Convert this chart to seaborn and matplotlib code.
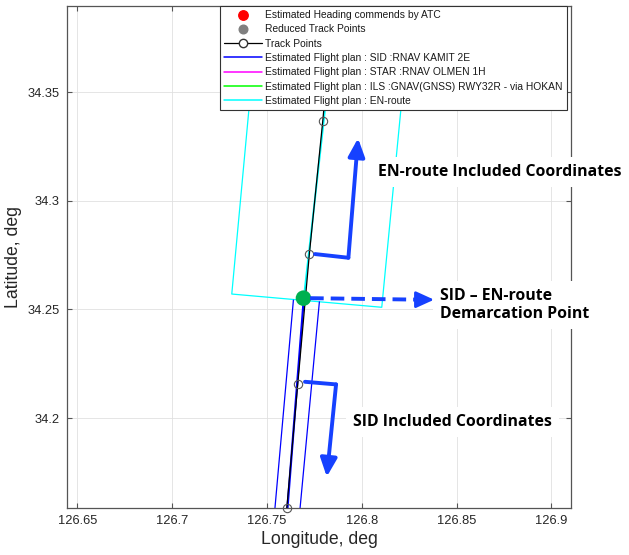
import numpy as np
import matplotlib
matplotlib.use("Agg")
import matplotlib.pyplot as plt
from matplotlib.lines import Line2D
import seaborn as sns

# flight track (lon, lat)
track_lon = [126.7604, 126.7662, 126.7723, 126.7794, 126.7855]
track_lat = [34.1584, 34.2157, 34.2754, 34.3369, 34.3950]

# SID corridor + centreline
sid_left_lon = [126.7533, 126.7639]
sid_left_lat = [34.150, 34.2543]
sid_right_lon = [126.7665, 126.7776]
sid_right_lat = [34.150, 34.2535]
sid_center_lon = [126.7600, 126.7694]
sid_center_lat = [34.150, 34.2552]

# EN-route corridor + centreline
enr_lon = [126.7466, 126.7314, 126.8105, 126.8270]
enr_lat = [34.400, 34.2571, 34.2510, 34.400]
enr_center_lon = [126.7694, 126.7880]
enr_center_lat = [34.2552, 34.400]

# SID / EN-route demarcation point
demarc_lon = [126.7692]
demarc_lat = [34.2552]

# annotation arrows
arrow_enr_lon = [126.7753, 126.7929, 126.7980]
arrow_enr_lat = [34.2755, 34.2738, 34.3288]
arrow_dem_lon = [126.7727, 126.8381]
arrow_dem_lat = [34.2552, 34.2545]
arrow_sid_lon = [126.7700, 126.7864, 126.7815]
arrow_sid_lat = [34.2167, 34.2155, 34.1730]

xticks = [126.65, 126.7, 126.75, 126.8, 126.85, 126.9]
xtick_labels = ['126.65', '126.7', '126.75', '126.8', '126.85', '126.9']
yticks = [34.2, 34.25, 34.3, 34.35]
ytick_labels = ['34.2', '34.25', '34.3', '34.35']

legend_labels = [
    'Estimated Heading commends by ATC',
    'Reduced Track Points',
    'Track Points',
    'Estimated Flight plan : SID :RNAV KAMIT 2E',
    'Estimated Flight plan : STAR :RNAV OLMEN 1H',
    'Estimated Flight plan : ILS :GNAV(GNSS) RWY32R - via HOKAN',
    'Estimated Flight plan : EN-route',
]

sns.set_theme(style="whitegrid")
plt.rcParams['font.family'] = ['Liberation Sans', 'DejaVu Sans']

axis_col = '#262626'
arrow_col = '#1641FF'

fig = plt.figure(figsize=(6.29, 5.55), dpi=100)
ax = fig.add_axes([67 / 629, 47 / 555, 504 / 629, 502 / 555])

# corridors
sns.lineplot(x=enr_lon, y=enr_lat, sort=False, estimator=None, color='#00FFFF', lw=0.9, ax=ax)
sns.lineplot(x=sid_left_lon, y=sid_left_lat, sort=False, estimator=None, color='#0000FF', lw=0.9, ax=ax)
sns.lineplot(x=sid_right_lon, y=sid_right_lat, sort=False, estimator=None, color='#0000FF', lw=0.9, ax=ax)
sns.lineplot(x=sid_center_lon, y=sid_center_lat, sort=False, estimator=None, color='#0000FF', lw=1.6, ax=ax)
sns.lineplot(x=enr_center_lon, y=enr_center_lat, sort=False, estimator=None, color='#00FFFF', lw=1.4, ax=ax)

# track
sns.lineplot(x=track_lon, y=track_lat, sort=False, estimator=None, color='black', lw=0.9, ax=ax, zorder=3)
sns.lineplot(x=track_lon, y=track_lat, sort=False, estimator=None, ls='', marker='o', markersize=6,
             markerfacecolor='none', markeredgecolor='#555555', markeredgewidth=0.8, ax=ax, zorder=4,
             clip_on=False)

sns.scatterplot(x=demarc_lon, y=demarc_lat, color='#00B050', s=125, edgecolor='none', ax=ax, zorder=6)

# text callouts (white boxes hide grid / spine behind them)
txt_kw = dict(family=['Open Sans', 'DejaVu Sans'], weight='bold', fontsize=11.4, color='black',
              ha='left', va='center', clip_on=False, zorder=7,
              bbox=dict(fc='white', ec='none', pad=5))
ax.text(126.8085, 34.3133, 'EN-route Included Coordinates', **txt_kw)
ax.text(126.8413, 34.2520, 'SID \u2013 EN-route\nDemarcation Point', linespacing=1.15, **txt_kw)
ax.text(126.7954, 34.1982, 'SID Included Coordinates', **txt_kw)

# arrows
head = '-|>,head_length=0.55,head_width=0.25'
ax.plot(arrow_enr_lon[:2], arrow_enr_lat[:2], color=arrow_col, lw=2.8, solid_joinstyle='miter', zorder=8)
ax.annotate('', xy=(arrow_enr_lon[2], arrow_enr_lat[2]), xytext=(arrow_enr_lon[1], arrow_enr_lat[1]),
            arrowprops=dict(arrowstyle=head, color=arrow_col, lw=2.8,
                            mutation_scale=20, shrinkA=0, shrinkB=0), zorder=8)
ax.plot(arrow_sid_lon[:2], arrow_sid_lat[:2], color=arrow_col, lw=2.8, solid_joinstyle='miter', zorder=8)
ax.annotate('', xy=(arrow_sid_lon[2], arrow_sid_lat[2]), xytext=(arrow_sid_lon[1], arrow_sid_lat[1]),
            arrowprops=dict(arrowstyle=head, color=arrow_col, lw=2.8,
                            mutation_scale=20, shrinkA=0, shrinkB=0), zorder=8)
dx = arrow_dem_lon[1] - arrow_dem_lon[0]
ax.plot([arrow_dem_lon[0], arrow_dem_lon[0] + dx * 0.9], [arrow_dem_lat[0], arrow_dem_lat[1]],
        color=arrow_col, lw=2.8, ls=(0, (3.5, 1.8)), zorder=8, clip_on=False)
ax.annotate('', xy=(arrow_dem_lon[1], arrow_dem_lat[1]), xytext=(arrow_dem_lon[0] + dx * 0.85, arrow_dem_lat[1]),
            arrowprops=dict(arrowstyle=head, color=arrow_col, lw=2.0,
                            mutation_scale=20, shrinkA=0, shrinkB=0), zorder=8, annotation_clip=False)

# axes styling
ax.set_xlim(126.6445, 126.9103)
ax.set_ylim(34.1586, 34.3897)
ax.set_xticks(xticks)
ax.set_xticklabels(xtick_labels)
ax.set_yticks(yticks)
ax.set_yticklabels(ytick_labels)
ax.set_facecolor('white')
ax.grid(True, color='#e0e0e0', lw=0.6)
for s in ax.spines.values():
    s.set_color('#555555')
    s.set_linewidth(0.9)
    s.set_visible(True)
ax.tick_params(direction='in', length=3.5, width=0.8, color='#555555', labelcolor=axis_col,
               labelsize=9.3, top=True, right=True, bottom=True, left=True, pad=5)
ax.set_xlabel('Longitude, deg', fontsize=12.7, color=axis_col, labelpad=3)
ax.set_ylabel('Latitude, deg', fontsize=12.7, color=axis_col, labelpad=4)

# legend
handles = [
    Line2D([], [], ls='', marker='o', color='#FF0000', markersize=6.8),
    Line2D([], [], ls='', marker='o', color='#808080', markersize=6.2),
    Line2D([], [], color='black', lw=0.9, marker='o', markerfacecolor='white', markeredgecolor='#333333',
           markersize=6),
    Line2D([], [], color='#0000FF', lw=1.1),
    Line2D([], [], color='#FF00FF', lw=1.1),
    Line2D([], [], color='#00FF00', lw=1.1),
    Line2D([], [], color='#00FFFF', lw=1.1),
]
leg = ax.legend(handles, legend_labels, loc='upper right', bbox_to_anchor=(0.992, 1.0), borderaxespad=0,
                fontsize=7.4, frameon=True, fancybox=False, framealpha=1, edgecolor='#333333',
                handlelength=3.7, handletextpad=0.35, labelspacing=0.42, borderpad=0.4)
leg.get_frame().set_linewidth(0.8)
leg.set_zorder(10)
for t in leg.get_texts():
    t.set_color('#1a1a1a')

fig.savefig('out.png', dpi=100)
